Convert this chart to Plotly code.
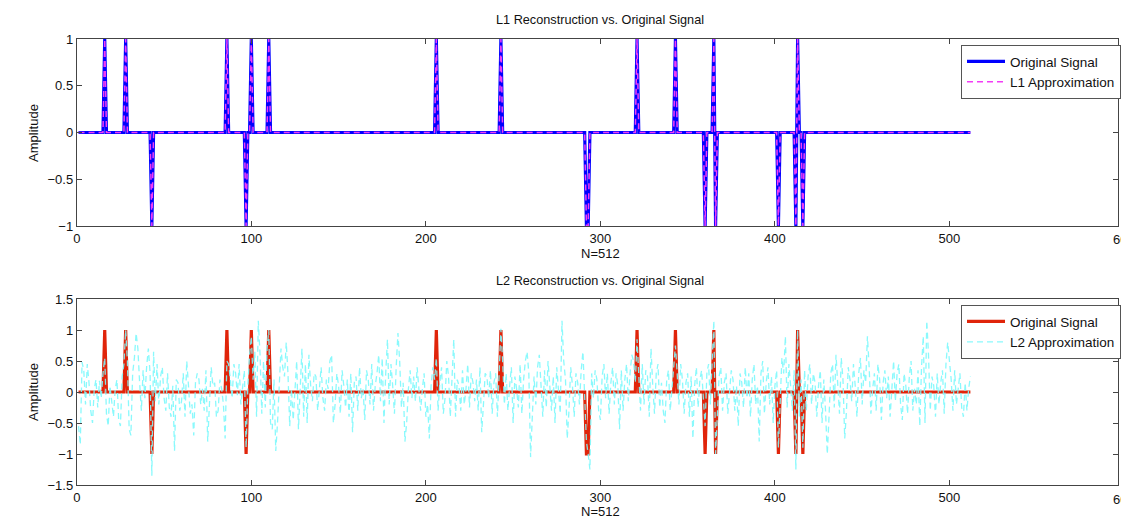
import numpy as np
import plotly.graph_objects as go
from plotly.subplots import make_subplots

N = 512
pos_spikes = [16, 28, 86, 100, 110, 206, 243, 321, 343, 365, 413]
neg_spikes = [43, 97, 292, 293, 360, 366, 402, 412, 416]

l2_approx = [
    -0.55, -0.85, 0.48, 0.35, -0.2, 0.45, 0.15, -0.3, -0.5, 0.05, 0.2, -0.25, 0.18, -0.1, 0.3, 0.55,
    -0.35, -0.55, 0.1, -0.2, -0.4, 0.05, 0.2, -0.45, -0.55, 0.25, 0.45, 1.0, 0.5, -0.6, -0.7, 0.3,
    0.55, 0.95, 0.7, 0.15, -0.3, 0.35, -0.1, 0.4, 0.7, 0.3, -1.35, 0.65, -0.15, 0.45, -0.2, 0.25,
    0.4, -0.1, -0.3, 0.3, -0.25, -0.4, 0.1, -0.95, 0.2, 0.15, -0.3, -0.15, 0.3, -0.4, 0.5, 0.1,
    -0.35, -0.2, -0.7, 0.15, 0.3, 0.2, -0.2, 0.05, -0.3, 0.35, -0.8, -0.2, 0.4, 0.1, 0.15, -0.4,
    -0.3, 0.2, 0.05, -0.2, -0.75, 0.5, 0.45, 0.2, -0.1, 0.45, 0.3, -0.05, 0.45, -0.2, 0.1, 0.35,
    -0.9, 0.1, 0.6, 0.9, 0.2, 0.65, -0.4, 1.15, 0.6, -0.35, 0.5, -0.25, 0.7, 1.0, -0.5, -0.6,
    0.2, -0.95, -0.5, 0.1, 0.7, 0.4, 0.25, 0.8, 0.3, -0.55, 0.05, -0.45, 0.15, 0.5, -0.6, 0.2,
    0.7, -0.4, 0.45, -0.5, 0.6, 0.1, -0.15, 0.3, 0.25, -0.3, 0.05, 0.4, -0.1, -0.3, 0.2, 0.05,
    0.5, 0.6, -0.5, -0.2, 0.3, 0.1, -0.35, 0.35, 0.1, -0.25, 0.2, -0.4, 0.3, -0.65, 0.15, 0.25,
    -0.3, 0.4, -0.1, 0.05, -0.45, 0.35, 0.2, -0.2, 0.45, -0.3, 0.1, 0.3, 0.6, -0.15, 0.55, -0.5,
    0.3, 0.85, -0.2, 0.45, 0.1, -0.35, 0.4, 0.95, 0.5, -0.25, 0.15, -0.8, -0.5, 0.05, 0.35, -0.1,
    0.25, -0.15, 0.4, 0.1, -0.3, 0.05, 0.3, -0.4, -0.2, -0.75, 0.1, 0.4, 0.2, 0.55, -0.3, 0.15,
    0.4, -0.35, -0.1, 0.5, 0.25, -0.4, 0.3, 0.85, -0.4, 0.2, 0.1, -0.3, 0.35, -0.2, 0.05, 0.45,
    -0.25, 0.3, 0.15, -0.15, 0.2, -0.3, 0.4, -0.65, -0.2, 0.3, 0.25, -0.1, 0.35, -0.35, 0.15, 0.3,
    -0.4, 0.35, 1.02, 0.5, -0.2, 0.3, -0.3, 0.1, 0.4, -0.5, 0.25, 0.05, -0.25, 0.45, -0.35, 0.2,
    0.5, 0.65, 0.3, -1.05, -0.45, 0.25, -0.2, 0.4, 0.6, 0.15, -0.4, 0.35, -0.25, 0.5, 0.1, -0.3,
    0.25, -0.5, 0.4, 0.05, -0.35, 1.15, 0.5, 0.2, -0.75, -0.3, 0.4, 0.1, -0.4, 0.3, 0.15, -0.2,
    0.35, 0.65, -0.25, -0.8, -1.0, -1.25, 0.3, -0.1, 0.35, 0.2, -0.3, -0.45, 0.25, 0.45, -0.1, 0.3,
    -0.35, 0.15, 0.4, -0.2, 0.3, 0.1, -0.6, 0.35, -0.3, 0.2, 0.45, -0.15, 0.3, 0.6, 0.5, 0.15,
    0.85, 0.2, -0.3, 0.45, -0.2, 0.35, 0.25, -0.4, 0.7, 0.1, -0.35, 0.3, 0.45, -0.25, 0.15, -0.3,
    -0.5, 0.2, 0.35, -0.3, 0.1, 0.4, 0.75, 0.3, -0.2, 0.45, 0.2, -0.35, 0.15, 0.3, -0.4, 0.25,
    -0.75, 0.1, 0.4, -0.25, 0.2, 0.35, -0.15, -0.55, 0.3, 0.45, -0.2, 0.6, 1.15, -1.0, -0.3, 0.25,
    0.4, -0.3, 0.15, 0.3, -0.35, 0.05, 0.35, 0.2, -0.3, 0.1, -0.55, 0.3, 0.15, -0.25, 0.4, -0.1,
    0.3, -0.4, 0.2, 0.45, -0.2, 0.1, -0.8, 0.3, 0.5, -0.35, 0.15, 0.4, -0.2, 0.25, -0.5, 0.1,
    0.35, -0.9, -0.2, 0.55, 0.3, 0.9, -0.25, 0.45, 0.1, -0.3, 0.35, -1.25, 1.0, -0.4, 0.2, -0.9,
    0.35, -0.3, 0.25, 0.45, -0.2, 0.3, 0.15, -0.4, 0.1, 0.35, -0.5, 0.2, -0.3, -1.0, -0.4, 0.3,
    0.45, -0.25, 0.6, 0.1, -0.35, 0.55, 0.2, -0.75, -0.3, 0.4, 0.2, -0.15, 0.45, 0.1, -0.4, 0.3,
    0.55, -0.2, 0.35, 0.15, 0.9, 0.4, -0.35, 0.05, 0.3, -0.3, 0.45, 0.2, -0.45, 0.15, 0.35, -0.1,
    0.25, -0.4, 0.1, 0.5, -0.15, 0.3, 0.45, -0.2, -0.45, 0.3, 0.1, -0.35, 0.25, 0.5, -0.3, 0.05,
    -0.2, 0.35, -0.55, 0.4, 0.9, -0.5, 1.15, 0.6, -0.3, 0.25, 0.1, -0.4, 0.3, -0.2, 0.15, 0.35,
    -0.35, 0.45, 0.8, 0.5, 0.2, -0.3, 0.35, -0.2, 0.1, 0.3, -0.25, -0.4, 0.15, -0.3, 0.05, 0.25,
]

x_ticks = [0, 100, 200, 300, 400, 500, 600]
y_ticks_top = [-1, -0.5, 0, 0.5, 1]
y_ticks_bot = [-1.5, -1, -0.5, 0, 0.5, 1, 1.5]

# build signals
n_idx = np.arange(1, N + 1)
original = np.zeros(N)
for p in pos_spikes:
    original[p - 1] = 1.0
for p in neg_spikes:
    original[p - 1] = -1.0
l1_approx = original.copy()
l2 = np.array(l2_approx)
l2_idx = np.arange(1, len(l2) + 1)

W, H = 1121, 518
left_px = 77
px_per_unit = 1.75
x_max = (W - left_px) / px_per_unit

fig = make_subplots(rows=2, cols=1)

fig.add_trace(go.Scatter(x=n_idx, y=original, mode="lines", name="Original Signal",
                         line=dict(color="#0000ff", width=3.2), legend="legend"), row=1, col=1)
fig.add_trace(go.Scatter(x=n_idx, y=l1_approx, mode="lines", name="L1 Approximation",
                         line=dict(color="#f23cf5", width=1.5, dash="6px,4px"), legend="legend"), row=1, col=1)
fig.add_trace(go.Scatter(x=n_idx, y=original, mode="lines", name="Original Signal",
                         line=dict(color="#e0240a", width=3.2), legend="legend2"), row=2, col=1)
fig.add_trace(go.Scatter(x=l2_idx, y=l2, mode="lines", name="L2 Approximation",
                         line=dict(color="rgba(125,248,252,0.9)", width=1.3, dash="6px,4px"),
                         legend="legend2"), row=2, col=1)

axis_common = dict(showgrid=False, zeroline=False, showline=True, linecolor="#444",
                   linewidth=1, mirror="ticks", ticks="inside", ticklen=5, tickcolor="#444",
                   tickfont=dict(family="Liberation Sans, Arial", size=13, color="#111"),
                   automargin=False)

dom_top_y = [1 - 226 / H, 1 - 39 / H]
dom_bot_y = [1 - 485 / H, 1 - 299 / H]
dom_x = [left_px / W, 1.0]

fig.update_xaxes(range=[0, x_max], tickvals=x_ticks, domain=dom_x, **axis_common)
fig.update_yaxes(**axis_common)
fig.update_yaxes(range=[-1, 1], tickvals=y_ticks_top, ticktext=["−1", "−0.5", "0", "0.5", "1"],
                 domain=dom_top_y, row=1, col=1)
fig.update_yaxes(range=[-1.5, 1.5], tickvals=y_ticks_bot,
                 ticktext=["−1.5", "−1", "−0.5", "0", "0.5", "1", "1.5"],
                 domain=dom_bot_y, row=2, col=1)

txt_font = dict(family="Liberation Sans, Arial", size=12.7, color="#111")
lab_font = dict(family="Liberation Sans, Arial", size=13, color="#111")
ann = []
for title, ty, ly, yc in [("L1 Reconstruction vs. Original Signal", 20, 253, 133),
                          ("L2 Reconstruction vs. Original Signal", 281, 511, 392)]:
    ann.append(dict(text=title, x=(left_px + 525) / W, y=1 - ty / H, xref="paper", yref="paper",
                    showarrow=False, font=txt_font, xanchor="center", yanchor="middle"))
    ann.append(dict(text="N=512", x=(left_px + 525) / W, y=1 - ly / H, xref="paper", yref="paper",
                    showarrow=False, font=lab_font, xanchor="center", yanchor="middle"))
    ann.append(dict(text="Amplitude", x=33 / W, y=1 - yc / H, xref="paper", yref="paper",
                    showarrow=False, textangle=-90, font=lab_font,
                    xanchor="center", yanchor="middle"))
# partially visible 600 tick labels at right edge
for yy in [239, 499]:
    ann.append(dict(text="600", x=(left_px + 600 * px_per_unit) / W, y=1 - yy / H,
                    xref="paper", yref="paper", showarrow=False, font=lab_font,
                    xanchor="center", yanchor="middle"))

leg_common = dict(bgcolor="white", bordercolor="#555", borderwidth=1,
                  font=dict(family="Liberation Sans, Arial", size=13.5, color="#111"),
                  xanchor="left", yanchor="top", tracegroupgap=0, itemwidth=38)

fig.update_layout(
    width=W, height=H, margin=dict(l=0, r=0, t=0, b=0),
    paper_bgcolor="white", plot_bgcolor="white", showlegend=True, hovermode=False,
    legend=dict(x=964 / W, y=1 - 45 / H, **leg_common),
    legend2=dict(x=964 / W, y=1 - 305 / H, **leg_common),
    annotations=ann,
)

fig.write_html("out.html", config={"displayModeBar": False, "staticPlot": True},
               post_script="document.body.style.margin='0';document.body.style.overflow='hidden';")
